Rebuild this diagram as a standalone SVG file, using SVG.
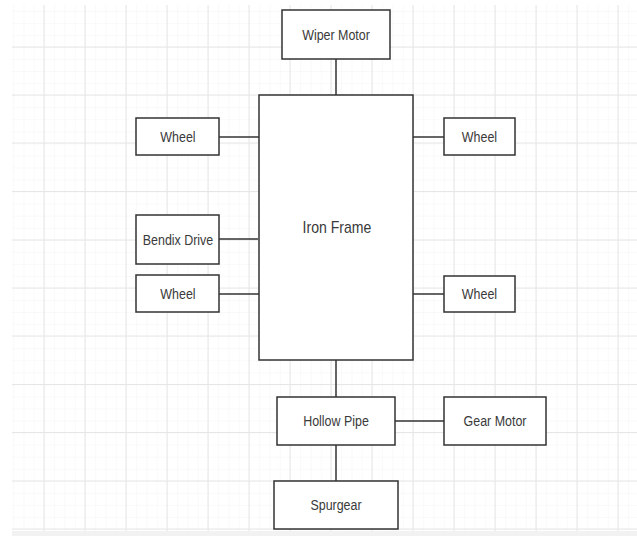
<svg xmlns="http://www.w3.org/2000/svg" width="637" height="536" viewBox="0 0 637 536">
<defs>
<pattern id="minor" patternUnits="userSpaceOnUse" x="44" y="47" width="10.25" height="12.05">
<path d="M0 0H10.25M0 0V12.05" fill="none" stroke="#f4f4f4" stroke-width="1"/>
</pattern>
<style>
.box{fill:#ffffff;stroke:#333333;stroke-width:1.5}
.lbl{font-family:"Liberation Sans",Arial,sans-serif;font-size:15px;fill:#3a3a3a;text-anchor:middle}
.big{font-size:16px}
.conn{stroke:#333333;stroke-width:1.5;fill:none}
.major{stroke:#e6e6e6;stroke-width:1;fill:none}
</style>
</defs>
<rect x="0" y="0" width="637" height="536" fill="#ffffff"/>
<g id="grid">
<rect x="12" y="5" width="625" height="526" fill="url(#minor)"/>
<path class="major" d="M44 5V531M85 5V531M126 5V531M167 5V531M208 5V531M249 5V531M290 5V531M331 5V531M372 5V531M413 5V531M454 5V531M495 5V531M536 5V531M577 5V531M618 5V531"/>
<path class="major" d="M12 47H637M12 95H637M12 143H637M12 191.5H637M12 240H637M12 288H637M12 336H637M12 384.5H637M12 432.5H637M12 481H637M12 529H637"/>
<rect x="12" y="531" width="625" height="5" fill="#f2f2f2"/>
</g>
<g id="connectors">
<path class="conn" d="M336 59V95"/>
<path class="conn" d="M219 137H259"/>
<path class="conn" d="M219 239H258"/>
<path class="conn" d="M219 294H259"/>
<path class="conn" d="M413 137H444"/>
<path class="conn" d="M413 294H444"/>
<path class="conn" d="M336 360V397"/>
<path class="conn" d="M395 421H444"/>
<path class="conn" d="M336 445V481"/>
</g>
<g id="wiper-motor"><rect class="box" x="282" y="10" width="108" height="49"/><text class="lbl" transform="translate(336 40) scale(0.83 1)">Wiper Motor</text></g>
<g id="iron-frame"><rect class="box" x="259" y="95" width="154" height="265"/><text class="lbl big" transform="translate(337 233) scale(0.88 1)">Iron Frame</text></g>
<g id="wheel-left-top"><rect class="box" x="136" y="118" width="83" height="37"/><text class="lbl" transform="translate(178 142) scale(0.83 1)">Wheel</text></g>
<g id="bendix-drive"><rect class="box" x="136" y="215" width="83" height="49"/><text class="lbl" transform="translate(178 245) scale(0.83 1)">Bendix Drive</text></g>
<g id="wheel-left-bottom"><rect class="box" x="136" y="275" width="83" height="37"/><text class="lbl" transform="translate(178 299) scale(0.83 1)">Wheel</text></g>
<g id="wheel-right-top"><rect class="box" x="444" y="118" width="71" height="37"/><text class="lbl" transform="translate(479.5 142) scale(0.83 1)">Wheel</text></g>
<g id="wheel-right-bottom"><rect class="box" x="444" y="276" width="71" height="36"/><text class="lbl" transform="translate(479.5 299) scale(0.83 1)">Wheel</text></g>
<g id="hollow-pipe"><rect class="box" x="277" y="397" width="118" height="48"/><text class="lbl" transform="translate(336 426) scale(0.83 1)">Hollow Pipe</text></g>
<g id="gear-motor"><rect class="box" x="444" y="397" width="102" height="48"/><text class="lbl" transform="translate(495 426) scale(0.83 1)">Gear Motor</text></g>
<g id="spurgear"><rect class="box" x="274" y="481" width="124" height="48"/><text class="lbl" transform="translate(336 510) scale(0.83 1)">Spurgear</text></g>
</svg>
